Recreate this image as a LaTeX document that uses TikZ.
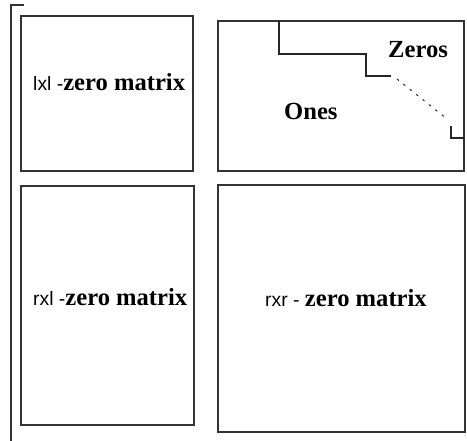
\documentclass[tikz,border=0pt]{standalone}
\usepackage{fontspec}
\setmainfont{Liberation Serif}
\newfontfamily\lblsans{Liberation Sans}
\usetikzlibrary{positioning}
\tikzset{
  px/.style={x=0.03cm, y=-0.03cm},
  blk/.style={draw=black!80, line width=1.1pt},
  stair/.style={draw=black!85, line width=1pt, line join=miter},
  dimlbl/.style={inner sep=0pt, anchor=base west, font=\fontsize{21}{25}\selectfont},
}
\newcommand{\dimtxt}[1]{{\lblsans\fontsize{16.5}{19}\selectfont #1}}
\begin{document}
\begin{tikzpicture}[px]
  \useasboundingbox (0,0) rectangle (467,441);
  % outer bracket
  \draw[blk] (24,5) -- (11,5) -- (11,441);
  % four blocks
  \draw[blk] (21,16) rectangle (193,171);
  \draw[blk] (218,21) rectangle (464,171);
  \draw[blk] (21,186) rectangle (194,425);
  \draw[blk] (218,185) rectangle (465,432);
  % staircase of the ones/zeros block
  \draw[stair] (279,21) -- (279,54) -- (366,54) -- (366,76) -- (391,76);
  \draw[stair, line width=0.9pt, dash pattern=on 2pt off 5pt] (397,79) -- (447,119);
  \draw[stair] (451,126) -- (451,138) -- (464,138);
  % labels
  \node[dimlbl] (lxl) at (33,90) {\dimtxt{lxl -}\textbf{zero matrix}};
  \node[dimlbl] (zeros) at (388,57) {\textbf{Zeros}};
  \node[dimlbl] (ones) at (284,119) {\textbf{Ones}};
  \node[dimlbl] (rxl) at (33,305) {\dimtxt{rxl -}\textbf{zero matrix}};
  \node[dimlbl] (rxr) at (265,306) {\dimtxt{rxr - }\textbf{zero matrix}};
\end{tikzpicture}
\end{document}
